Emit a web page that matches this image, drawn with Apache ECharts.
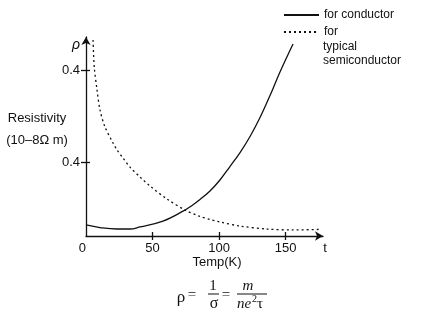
<!DOCTYPE html>
<html><head><meta charset="utf-8">
<script src="https://cdn.jsdelivr.net/npm/echarts@6/dist/echarts.min.js"></script>
<style>html,body{margin:0;padding:0;background:#fff}#c{width:444px;height:323px}</style>
</head><body><div id="c"></div>
<script>
// ---- data ----
const conductorName = 'for conductor';
const semiName = 'for typical semiconductor';
const conductorT   = [0, 10.5, 23.3, 33.0, 40.6, 57.8, 72.9, 80.4, 85.6, 93.1, 100.6, 108.1, 115.7, 123.2, 130.7, 138.2, 145.7, 155.5];
const conductorRho = [0.060, 0.046, 0.038, 0.038, 0.049, 0.081, 0.135, 0.170, 0.198, 0.244, 0.304, 0.377, 0.453, 0.540, 0.643, 0.762, 0.890, 1.042];
const semiT   = [5.3, 6.2, 8.3, 10.5, 14.3, 20.3, 23.3, 27.8, 33.0, 40.6, 48.1, 60.8, 74.4, 85.6, 93.1, 100.6, 115.7, 135.9, 155.5, 177.0];
const semiRho = [1.064, 0.917, 0.792, 0.684, 0.591, 0.505, 0.467, 0.423, 0.374, 0.320, 0.271, 0.201, 0.141, 0.106, 0.090, 0.076, 0.054, 0.038, 0.033, 0.036];
const xTickValues = [50, 100, 150];
const xLabelValues = [0, 50, 100, 150];
const yTickValues = [0.4, 0.9];
const yTickLabels = ['0.4', '0.4'];
const xMax = 178, yMax = 1.08;

const sans = '"Liberation Sans", Arial, Helvetica, sans-serif';
const serif = '"Liberation Serif", "Times New Roman", serif';
const black = '#111';

const zip = (a, b) => a.map((v, i) => [v, b[i]]);
const chart = echarts.init(document.getElementById('c'), null, {renderer: 'canvas'});
const axisLineStyle = {color: black, width: 1.3};

chart.setOption({
  animation: false,
  backgroundColor: '#fff',
  grid: {left: 86, top: 37, width: 237, height: 199, containLabel: false},
  legend: {
    orient: 'vertical', left: 283, top: 9, padding: 0,
    itemWidth: 35, itemHeight: 12, itemGap: 5,
    data: [conductorName, semiName],
    formatter: n => n === semiName ? 'for' : n,
    itemStyle: {opacity: 0},
    textStyle: {fontSize: 12, color: black, fontFamily: sans}
  },
  xAxis: [{
    type: 'value', min: 0, max: xMax, position: 'bottom',
    axisLine: {show: true, onZero: false, symbol: ['none', 'arrow'], symbolSize: [7, 8], lineStyle: axisLineStyle},
    axisTick: {show: true, inside: false, length: 4, customValues: xTickValues, lineStyle: axisLineStyle},
    axisLabel: {customValues: xLabelValues, margin: 6, color: black, fontSize: 13, fontFamily: sans, alignMinLabel: 'right'},
    splitLine: {show: false},
    name: 't', nameLocation: 'end', nameGap: 2,
    nameTextStyle: {align: 'center', verticalAlign: 'top', padding: [6, 0, 0, 0], fontSize: 13, color: black, fontFamily: sans}
  }, {
    type: 'value', min: 0, max: xMax, position: 'bottom', offset: 0,
    axisLine: {show: false},
    axisTick: {show: true, inside: true, length: 4, customValues: xTickValues, lineStyle: axisLineStyle},
    axisLabel: {show: false},
    splitLine: {show: false},
    name: 'Temp(K)', nameLocation: 'middle', nameGap: 20,
    nameTextStyle: {fontSize: 13, color: black, fontFamily: sans, padding: [0, 0, 0, 25]}
  }],
  yAxis: [{
    type: 'value', min: 0, max: yMax, position: 'left',
    axisLine: {show: true, onZero: false, symbol: ['none', 'arrow'], symbolSize: [7, 8], lineStyle: axisLineStyle},
    axisTick: {show: true, inside: false, length: 5, customValues: yTickValues, lineStyle: axisLineStyle},
    axisLabel: {customValues: yTickValues, margin: 6, color: black, fontSize: 13, fontFamily: sans,
      formatter: v => yTickLabels[yTickValues.indexOf(v)] ?? ''},
    splitLine: {show: false},
    name: 'ρ', nameLocation: 'end', nameGap: -8,
    nameTextStyle: {align: 'right', verticalAlign: 'middle', padding: [0, 6, 0, 0], fontSize: 14, fontStyle: 'italic', color: black, fontFamily: sans}
  }, {
    type: 'value', min: 0, max: yMax, position: 'left', offset: 0,
    axisLine: {show: false},
    axisTick: {show: true, inside: true, length: 4, customValues: yTickValues, lineStyle: axisLineStyle},
    axisLabel: {show: false},
    splitLine: {show: false},
    name: '{a|Resistivity}\n{a|(10–8Ω m)}\n{c| }', nameLocation: 'middle', nameGap: 49, nameRotate: 0,
    nameTextStyle: {align: 'center', verticalAlign: 'middle', fontSize: 13, color: black, fontFamily: sans,
      rich: {
        a: {fontSize: 13, lineHeight: 22, color: black, fontFamily: sans, align: 'center'},
        c: {fontSize: 13, lineHeight: 15}
      }}
  }],
  series: [{
    name: conductorName, type: 'line', xAxisIndex: 0, yAxisIndex: 0,
    data: zip(conductorT, conductorRho), symbol: 'none', smooth: 0.4,
    lineStyle: {color: black, width: 1.3}, itemStyle: {color: black}
  }, {
    name: semiName, type: 'line', xAxisIndex: 0, yAxisIndex: 0,
    data: zip(semiT, semiRho), symbol: 'none', smooth: 0.3,
    lineStyle: {color: black, width: 1.3, type: [2, 3]}, itemStyle: {color: black}
  }],
  graphic: [
    {type: 'text', x: 323, y: 40, style: {text: 'typical\nsemiconductor', font: '12px ' + sans, fill: black, lineHeight: 14, align: 'left', verticalAlign: 'top'}},
    {type: 'text', x: 181, y: 298, style: {text: 'ρ', font: '17px ' + serif, fill: black, align: 'center', verticalAlign: 'middle'}},
    {type: 'text', x: 192, y: 295, style: {text: '=', font: '15px ' + serif, fill: black, align: 'center', verticalAlign: 'middle'}},
    {type: 'text', x: 213, y: 286, style: {text: '1', font: '15px ' + serif, fill: black, align: 'center', verticalAlign: 'middle'}},
    {type: 'line', shape: {x1: 208, y1: 294, x2: 219, y2: 294}, style: {stroke: black, lineWidth: 1}},
    {type: 'text', x: 214, y: 304, style: {text: 'σ', font: '16px ' + serif, fill: black, align: 'center', verticalAlign: 'middle'}},
    {type: 'text', x: 226, y: 295, style: {text: '=', font: '15px ' + serif, fill: black, align: 'center', verticalAlign: 'middle'}},
    {type: 'text', x: 248, y: 286, style: {text: 'm', font: 'italic 15px ' + serif, fill: black, align: 'center', verticalAlign: 'middle'}},
    {type: 'line', shape: {x1: 237, y1: 294, x2: 267, y2: 294}, style: {stroke: black, lineWidth: 1}},
    {type: 'text', x: 237, y: 304, style: {text: 'ne', font: 'italic 15px ' + serif, fill: black, align: 'left', verticalAlign: 'middle'}},
    {type: 'text', x: 252, y: 299, style: {text: '2', font: '10px ' + serif, fill: black, align: 'left', verticalAlign: 'middle'}},
    {type: 'text', x: 257, y: 304, style: {text: 'τ', font: '15px ' + serif, fill: black, align: 'left', verticalAlign: 'middle'}}
  ]
});
</script>
</body></html>
